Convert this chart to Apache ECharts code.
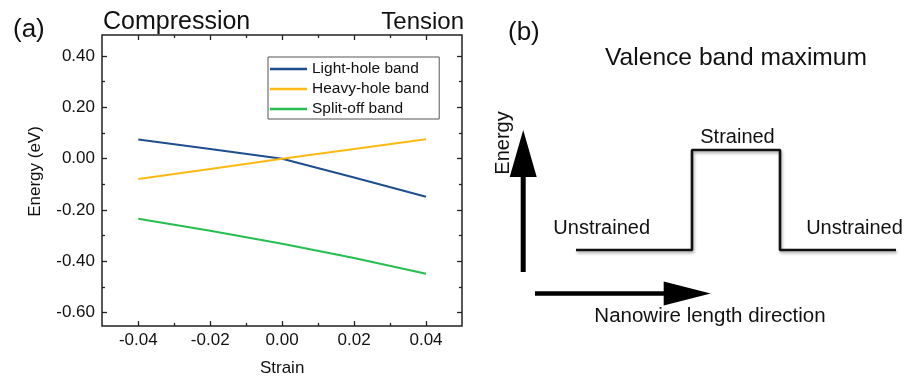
<!DOCTYPE html>
<html>
<head>
<meta charset="utf-8">
<script src="https://cdn.jsdelivr.net/npm/echarts@6/dist/echarts.min.js"></script>
<style>
  html, body { margin: 0; padding: 0; background: #fff; }
  #main { width: 908px; height: 380px; }
</style>
</head>
<body>
<div id="main"></div>
<script>
var chartDom = document.getElementById("main");
var chart = echarts.init(chartDom);
var FONT = "Liberation Sans, Arial, sans-serif";

// panel (a): band edge energies vs strain
var strain = [-0.04, -0.02, 0.00, 0.02, 0.04];
var lightHole = [0.075, 0.038, 0.000, -0.073, -0.148];
var heavyHole = [-0.079, -0.040, 0.000, 0.038, 0.076];
var splitOff = [-0.234, -0.281, -0.331, -0.387, -0.448];
var bandNames = ["Light-hole band", "Heavy-hole band", "Split-off band"];
var bandColors = ["#1f4e8e", "#fdb913", "#27be50"];

// panel (b): schematic, position along wire (a.u.) and energy (a.u.)
var profileX = [19, 48, 48, 70, 70, 99];
var profileY = [4, 4, 9, 9, 4, 4];
var energyShaftX = [5.8, 5.8];
var energyShaftY = [2.9, 7.7];
var energyHead = [5.8, 8.83];
var lengthShaftX = [8.75, 41.5];
var lengthShaftY = [1.83, 1.83];
var lengthHead = [46.8, 1.83];

function pairs(xs, ys) {
    var out = [];
    for (var i = 0; i < xs.length; i++) {
        out.push([xs[i], ys[i]]);
    }
    return out;
}

function fmt(v) {
    if (Math.abs(v) < 1e-9) return "0.00";
    return v.toFixed(2);
}

var tickStyle = { color: "#222", width: 1.3 };

var bands = [lightHole, heavyHole, splitOff];
var series = [];
for (var i = 0; i < bands.length; i++) {
    series.push({
        name: bandNames[i],
        type: "line",
        xAxisIndex: 1,
        yAxisIndex: 1,
        showSymbol: false,
        symbol: "none",
        lineStyle: { color: bandColors[i], width: 2 },
        itemStyle: { color: bandColors[i] },
        data: pairs(strain, bands[i])
    });
}

var shadow = { shadowColor: "rgba(0,0,0,0.35)", shadowBlur: 3, shadowOffsetX: 1, shadowOffsetY: 2 };

series.push({
    type: "line",
    xAxisIndex: 3,
    yAxisIndex: 3,
    symbol: "none",
    lineStyle: Object.assign({ color: "#111", width: 2.6 }, shadow),
    data: pairs(profileX, profileY)
});
series.push({
    type: "line",
    xAxisIndex: 3,
    yAxisIndex: 3,
    symbol: "none",
    lineStyle: { color: "#000", width: 5 },
    data: pairs(energyShaftX, energyShaftY)
});
series.push({
    type: "line",
    xAxisIndex: 3,
    yAxisIndex: 3,
    symbol: "none",
    lineStyle: { color: "#000", width: 4.5 },
    data: pairs(lengthShaftX, lengthShaftY)
});
series.push({
    type: "scatter",
    xAxisIndex: 3,
    yAxisIndex: 3,
    symbol: "triangle",
    symbolSize: [27, 47],
    itemStyle: { color: "#000", opacity: 1 },
    data: [energyHead]
});
series.push({
    type: "scatter",
    xAxisIndex: 3,
    yAxisIndex: 3,
    symbol: "triangle",
    symbolSize: [24, 47],
    symbolRotate: -90,
    itemStyle: { color: "#000", opacity: 1 },
    data: [lengthHead]
});

function txt(x, y, text, size, align, rot) {
    return {
        type: "text",
        x: x,
        y: y,
        rotation: rot || 0,
        silent: true,
        style: {
            text: text,
            fontSize: size,
            fontFamily: FONT,
            fill: "#111",
            align: align || "left",
            verticalAlign: "middle"
        }
    };
}

var option = {
    animation: false,
    backgroundColor: "#fff",
    textStyle: { fontFamily: FONT },
    grid: [
        { left: 102, top: 35, width: 360, height: 291, show: true, borderColor: "#222", borderWidth: 1.5, backgroundColor: "transparent", outerBoundsMode: "none", containLabel: false },
        { left: 138.3, top: 56, width: 287.7, height: 256.7, outerBoundsMode: "none", containLabel: false },
        { left: 500, top: 110, width: 400, height: 220, outerBoundsMode: "none", containLabel: false }
    ],
    xAxis: [
        { gridIndex: 0, type: "value", min: -0.05, max: 0.05, show: false },
        {
            gridIndex: 1, type: "value", min: -0.04, max: 0.04, interval: 0.02,
            position: "bottom", offset: 13.3,
            axisLine: { show: false, onZero: false },
            axisTick: { show: true, inside: true, length: 5, lineStyle: tickStyle },
            minorTick: { show: true, splitNumber: 2, length: 3, lineStyle: tickStyle },
            splitLine: { show: false },
            axisLabel: { margin: 6, fontSize: 17, color: "#111", formatter: fmt },
            name: "Strain", nameLocation: "middle", nameGap: 34,
            nameTextStyle: { fontSize: 17, color: "#111" }
        },
        {
            gridIndex: 1, type: "value", min: -0.04, max: 0.04, interval: 0.02,
            position: "top", offset: 21,
            axisLine: { show: false, onZero: false },
            axisTick: { show: true, inside: true, length: 5, lineStyle: tickStyle },
            minorTick: { show: true, splitNumber: 2, length: 3, lineStyle: tickStyle },
            splitLine: { show: false },
            axisLabel: { show: false }
        },
        { gridIndex: 2, type: "value", min: 0, max: 100, show: false }
    ],
    yAxis: [
        { gridIndex: 0, type: "value", min: -0.652, max: 0.482, show: false },
        {
            gridIndex: 1, type: "value", min: -0.6, max: 0.4, interval: 0.2,
            position: "left", offset: 36.3,
            axisLine: { show: false, onZero: false },
            axisTick: { show: true, inside: true, length: 5, lineStyle: tickStyle },
            minorTick: { show: true, splitNumber: 2, length: 3, lineStyle: tickStyle },
            splitLine: { show: false },
            axisLabel: { margin: 7, fontSize: 17, color: "#111", formatter: fmt }
        },
        {
            gridIndex: 1, type: "value", min: -0.6, max: 0.4, interval: 0.2,
            position: "right", offset: 36,
            axisLine: { show: false, onZero: false },
            axisTick: { show: true, inside: true, length: 5, lineStyle: tickStyle },
            minorTick: { show: true, splitNumber: 2, length: 3, lineStyle: tickStyle },
            splitLine: { show: false },
            axisLabel: { show: false }
        },
        { gridIndex: 2, type: "value", min: 0, max: 11, show: false }
    ],
    legend: {
        data: bandNames,
        orient: "vertical",
        left: 268,
        top: 57,
        icon: "rect",
        itemWidth: 37,
        itemHeight: 2.5,
        itemGap: 4,
        padding: [4, 10, 2, 2],
        borderColor: "#555",
        borderWidth: 1,
        borderRadius: 0,
        selectedMode: false,
        textStyle: { fontSize: 15.5, color: "#111", lineHeight: 16, fontFamily: FONT }
    },
    graphic: [
        txt(13, 30, "(a)", 26),
        txt(103, 21.7, "Compression", 25),
        txt(464, 22, "Tension", 24, "right"),
        txt(35, 171.5, "Energy (eV)", 17, "center", Math.PI / 2),
        txt(508, 33, "(b)", 26),
        txt(736, 58, "Valence band maximum", 24.6, "center"),
        txt(737.5, 137, "Strained", 20, "center"),
        txt(601.7, 228, "Unstrained", 20, "center"),
        txt(854.5, 228, "Unstrained", 20, "center"),
        txt(503, 143, "Energy", 20, "center", Math.PI / 2),
        txt(710, 316, "Nanowire length direction", 20.5, "center")
    ],
    series: series
};

chart.setOption(option);
</script>
</body>
</html>
